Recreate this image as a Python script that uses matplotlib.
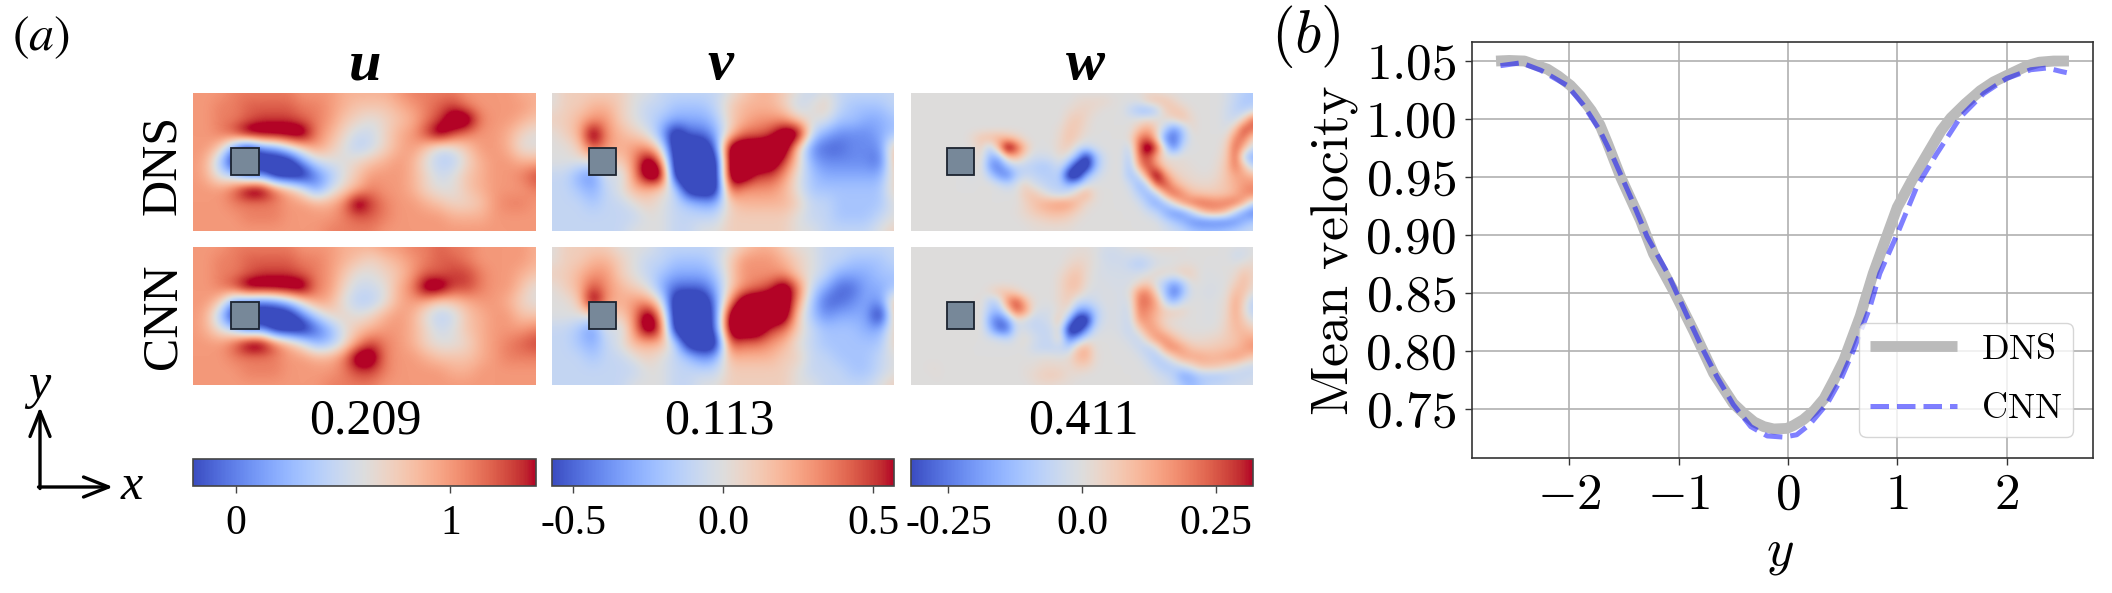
import numpy as np
import matplotlib
matplotlib.use('Agg')
import matplotlib.pyplot as plt
from matplotlib.patches import Rectangle

plt.rcParams['font.family'] = ['Liberation Serif', 'DejaVu Serif']
plt.rcParams['mathtext.fontset'] = 'cm'

W, H = 2112, 593

# mean velocity profiles, panel (b)
y_dns = [-2.67, -2.55, -2.41, -2.2, -2.1, -1.99, -1.9, -1.8, -1.72, -1.65, -1.53, -1.35, -1.23, -1.04, -0.86, -0.68,
         -0.5, -0.4, -0.31, -0.22, -0.13, -0.01, 0.05, 0.14, 0.24, 0.33, 0.42, 0.51, 0.66, 0.78, 0.88, 1.0, 1.15, 1.3,
         1.4, 1.49, 1.62, 1.76, 1.88, 2.0, 2.19, 2.3, 2.43, 2.57]
vel_dns = [1.05, 1.0505, 1.05, 1.043, 1.037, 1.029, 1.02, 1.0075, 0.995, 0.979, 0.95, 0.913, 0.884, 0.851, 0.817, 0.781,
           0.755, 0.746, 0.739, 0.735, 0.733, 0.7335, 0.736, 0.741, 0.749, 0.759, 0.775, 0.792, 0.83, 0.867, 0.893, 0.924, 0.95, 0.974,
           0.99, 1.001, 1.013, 1.0245, 1.032, 1.0375, 1.046, 1.049, 1.05, 1.05]
y_cnn = [-2.63, -2.44, -2.26, -2.02, -1.87, -1.72, -1.59, -1.44, -1.29, -1.1, -0.92, -0.77, -0.65, -0.5, -0.34, -0.19,
         -0.04, 0.08, 0.2, 0.36, 0.48, 0.6, 0.75, 0.84, 1.0, 1.18, 1.36, 1.58, 1.79, 2.0, 2.22, 2.37, 2.5, 2.55]
vel_cnn = [1.046, 1.0485, 1.042, 1.029, 1.012, 0.99, 0.965, 0.933, 0.899, 0.867, 0.83, 0.8, 0.778, 0.754, 0.735, 0.727,
           0.726, 0.728, 0.737, 0.755, 0.775, 0.801, 0.838, 0.867, 0.901, 0.942, 0.97, 1.002, 1.022, 1.035, 1.0425, 1.044, 1.041, 1.04]

# fields, u and v in tenths, w in hundredths
u_dns = [
    [10,10,10,11,11,11,11,11,10,10,10,9,9,9,9,10,11,11,11,11,10,10,10,10,9,9],
    [10,10,11,11,12,12,12,12,11,11,10,9,8,8,8,9,10,11,12,13,11,10,10,10,10,9],
    [10,10,11,11,12,13,13,13,12,11,10,8,7,6,7,8,9,11,13,14,14,11,10,10,9,8],
    [10,10,11,13,14,14,14,14,14,11,9,7,5,5,7,9,10,13,14,13,11,10,10,9,7,6],
    [10,10,8,1,-2,0,1,5,8,10,8,6,4,5,7,9,10,8,5,6,8,10,10,9,6,6],
    [10,9,3,-2,-2,-2,-2,-2,1,5,6,6,7,8,9,10,9,6,4,4,7,9,10,10,9,9],
    [10,9,5,4,-1,0,-2,-2,-2,0,3,6,8,10,10,10,9,7,5,6,8,9,10,10,11,13],
    [10,10,10,12,14,14,12,9,6,1,5,7,9,11,10,10,9,7,6,6,8,9,10,10,10,11],
    [10,10,10,11,11,11,11,10,10,9,9,11,14,13,11,10,10,9,8,7,7,8,10,11,11,10],
    [10,10,10,10,11,11,11,10,10,10,10,11,12,12,11,10,10,10,10,9,9,9,10,10,10,10],
    [10,10,10,10,10,10,10,10,10,10,11,11,11,11,10,10,10,10,10,10,10,10,10,10,10,10],
]
u_cnn = [
    [10,10,10,11,11,11,11,11,10,10,10,9,9,9,10,10,11,11,12,11,11,10,10,10,10,9],
    [10,10,11,11,12,12,12,12,11,11,10,9,8,7,8,9,10,11,12,12,11,10,10,10,10,9],
    [10,10,11,11,12,13,13,13,12,11,10,8,6,6,7,8,10,12,12,13,13,11,10,10,9,8],
    [10,10,11,13,14,14,14,14,14,11,10,7,5,5,6,9,11,14,14,13,13,11,10,10,8,6],
    [10,10,8,1,0,-1,0,3,7,10,9,6,4,4,6,9,10,9,7,8,9,10,10,9,7,6],
    [10,9,3,-2,-2,-2,-2,-2,0,4,7,7,6,7,9,10,9,6,4,5,8,9,10,10,8,8],
    [10,9,6,4,-1,0,-2,-2,-2,-1,2,6,8,9,10,10,9,7,5,6,8,9,10,10,10,11],
    [10,10,10,12,14,14,12,9,6,2,3,6,10,13,11,10,9,7,6,6,7,9,10,11,12,13],
    [10,10,10,11,11,11,11,10,10,9,9,11,14,14,11,10,10,9,8,8,8,9,10,11,11,11],
    [10,10,10,10,11,11,11,10,10,10,10,11,13,13,11,10,10,10,10,9,9,10,10,10,10,10],
    [10,10,10,10,10,10,10,10,10,10,11,11,11,11,10,10,10,10,10,10,10,10,10,10,10,10],
]
v_dns = [
    [0,1,1,1,1,1,0,0,-1,-1,-1,-1,-1,0,1,2,2,1,0,-1,0,-1,-1,-1,-1,-1],
    [0,1,1,2,2,1,0,-1,-1,-2,-2,-2,-1,1,2,2,2,1,-1,0,1,-1,-2,-2,-2,-1],
    [1,1,2,3,3,1,0,-1,-2,-3,-3,-3,-2,1,2,3,3,3,1,0,0,-2,-2,-3,-3,-2],
    [0,1,2,6,3,2,1,0,-3,-6,-5,-5,-3,1,4,4,5,6,6,-1,-3,-4,-4,-4,-3,-2],
    [0,0,1,5,3,2,3,3,0,-6,-6,-6,-5,6,6,6,6,6,1,-4,-5,-5,-4,-4,-4,2],
    [0,0,0,0,1,1,3,6,4,-6,-6,-6,-6,6,6,6,6,5,1,-3,-4,-4,-4,-4,-5,2],
    [-1,-1,-3,-4,0,-1,3,6,6,-6,-6,-6,-6,6,6,5,5,3,0,-2,-3,-3,-3,-3,-3,1],
    [-1,-1,-2,-3,-1,0,2,2,1,-1,-6,-6,-6,5,3,3,3,2,0,-2,-2,-2,-2,-2,-2,1],
    [-1,-1,-1,-2,-1,-1,0,1,0,-1,-2,-3,-3,1,2,2,2,2,1,-1,-1,-2,-2,-2,-2,0],
    [-1,-1,-1,-1,-1,-1,-1,0,0,-1,-1,-1,-1,1,1,1,1,1,0,-1,-1,-2,-2,-2,-1,0],
    [-1,-1,-1,-1,-1,-1,0,0,0,-1,-1,0,0,1,1,1,1,1,0,0,-1,-1,-1,-1,0,1],
]
v_cnn = [
    [0,1,1,1,1,0,0,0,-1,-1,-1,-1,-1,0,1,2,2,1,0,0,-1,-1,-1,-1,-1,-1],
    [0,1,1,2,2,1,0,-1,-1,-2,-2,-2,-1,1,3,3,3,2,1,0,-1,-1,-2,-2,-2,-1],
    [1,1,2,3,3,1,0,-1,-2,-3,-3,-3,-2,1,3,3,3,3,1,0,-1,-3,-3,-3,-2,-2],
    [0,1,2,5,3,2,1,0,-3,-5,-5,-5,-3,1,3,4,5,6,4,-1,-3,-5,-5,-3,-3,-2],
    [0,0,1,6,3,2,3,3,0,-6,-6,-6,-4,3,6,6,6,6,3,-2,-5,-5,-4,-3,-4,2],
    [0,0,0,0,1,1,3,6,3,-6,-6,-6,-5,6,6,6,6,6,1,-2,-4,-3,-3,-3,-6,2],
    [-1,-1,-2,-4,0,-1,3,6,5,-6,-6,-6,-5,6,6,6,5,4,1,-1,-2,-2,-2,-3,-3,1],
    [-1,-1,-2,-3,-1,0,2,2,2,-1,-6,-6,-6,5,4,4,3,2,0,-1,-2,-2,-2,-2,-2,1],
    [-1,-1,-1,-2,-1,-1,0,1,0,-1,-2,-4,-3,2,2,2,2,1,1,-1,-1,-2,-2,-2,-1,0],
    [-1,-1,-1,-1,-1,-1,-1,0,0,-1,-1,-1,-1,1,1,1,1,1,0,-1,-1,-1,-2,-2,-1,0],
    [-1,-1,-1,-1,-1,-1,0,0,0,-1,-1,0,0,1,1,1,1,1,0,0,-1,-1,-1,-1,0,1],
]
w_dns = [
    [0,0,0,0,0,0,0,0,0,0,0,0,0,0,0,0,0,0,0,0,0,0,0,0,0,0,0,2,2,0,0,0,0,0,0,0,-2,-5,-8,-10],
    [0,0,0,0,0,0,0,0,0,0,0,0,0,0,0,0,0,0,0,2,3,3,3,1,0,0,0,6,8,8,4,0,0,0,0,0,-2,-6,-10,-10],
    [0,0,0,0,0,0,0,0,0,0,0,0,0,0,0,0,0,0,2,4,4,2,0,0,0,-6,-12,-14,-8,5,8,6,1,0,0,0,-3,-7,-8,-4],
    [0,0,0,0,0,0,0,0,0,0,0,0,0,0,0,0,0,0,5,7,3,0,0,0,0,0,1,3,2,1,4,8,3,0,0,0,-3,-4,6,25],
    [0,0,0,0,0,0,0,0,0,0,0,0,0,0,0,0,0,2,7,6,2,0,0,0,0,0,8,14,5,-8,-22,-10,3,0,0,0,-2,8,28,22],
    [0,0,0,0,0,0,0,3,8,10,12,10,6,1,0,0,0,3,8,5,0,0,0,0,0,2,20,25,8,-22,-28,-12,0,0,0,0,2,20,22,4],
    [0,0,0,0,0,0,0,0,5,-8,12,32,28,10,0,0,0,4,6,-3,-5,-2,0,0,0,-6,25,32,28,-5,-25,-4,0,0,0,0,5,25,10,-4],
    [0,0,0,0,0,0,0,0,3,-15,-15,8,12,2,-3,-3,-2,2,-2,-15,-30,-15,-3,0,0,-10,22,28,12,1,2,1,0,0,0,1,6,25,-8,-18],
    [0,0,0,0,0,0,0,0,2,-20,-25,-12,-6,-6,-8,-10,-8,-3,-18,-32,-32,-15,-3,0,0,-12,15,28,18,5,2,2,1,0,0,2,8,22,8,-8],
    [0,0,0,0,0,0,0,-2,1,-8,-20,-25,-10,-5,-6,-8,-8,-8,-32,-32,-15,-5,-1,0,0,-12,-6,20,30,18,6,3,2,1,1,3,8,14,14,10],
    [0,0,0,0,0,0,0,0,0,1,-2,-6,-2,5,-2,-5,-8,-8,-15,-10,-2,0,0,0,0,-3,-15,-6,25,28,14,7,4,3,3,5,8,12,16,18],
    [0,0,0,0,0,0,0,0,0,0,0,0,0,6,8,2,-3,-6,-2,6,12,2,0,0,0,-1,-8,-15,-8,15,25,18,10,8,7,7,8,12,18,20],
    [0,0,0,0,0,0,0,0,0,0,0,0,0,4,8,12,14,16,15,10,3,1,0,0,0,0,-2,-10,-18,-12,2,16,22,24,22,20,22,22,12,-6],
    [0,0,0,0,0,0,0,0,0,0,0,0,1,3,6,8,10,10,8,4,1,0,0,0,0,0,0,-3,-6,-16,-22,-20,-8,6,14,15,8,-8,-20,-25],
    [0,0,0,0,0,0,0,0,0,0,0,0,0,1,2,3,4,4,3,1,0,0,0,0,0,0,0,0,-1,-5,-10,-15,-22,-25,-25,-25,-25,-22,-15,-10],
    [0,0,0,0,0,0,0,0,0,0,0,0,0,0,1,1,1,1,1,0,0,0,0,0,0,0,0,0,0,-2,-4,-6,-10,-12,-12,-12,-10,-8,-6,-4],
]
w_cnn = [
    [0,0,0,0,0,0,0,0,0,0,0,0,0,0,0,0,0,0,0,1,1,0,-2,-2,-1,0,1,2,2,2,2,1,0,0,0,0,0,0,-1,0],
    [0,0,0,0,0,0,0,0,0,0,0,0,0,0,0,0,0,0,1,2,2,0,-3,-4,-3,-2,-3,-2,0,0,0,0,0,0,0,0,0,-4,-3,0],
    [0,0,0,0,0,0,0,0,0,0,0,0,0,0,0,0,0,0,3,5,3,0,-2,-3,-3,-6,-9,-6,-2,-1,0,1,1,0,0,0,0,0,2,3],
    [0,0,0,0,0,0,0,0,0,0,0,0,0,0,0,0,0,2,6,8,3,-1,-2,-2,-2,-2,-2,0,3,3,2,6,5,0,-1,0,0,2,8,4],
    [0,0,0,0,0,0,0,0,0,0,0,0,0,0,0,0,0,3,8,9,2,-1,-1,-2,-2,-2,2,6,-2,-10,-18,-10,1,0,-1,-1,0,5,10,3],
    [0,0,0,0,0,0,0,0,0,3,8,8,4,0,0,0,0,3,7,6,0,-2,-1,-1,-2,1,18,20,4,-12,-28,-14,-1,-1,-2,-1,1,10,8,0],
    [0,0,0,0,0,0,0,0,2,-8,-6,18,28,12,1,0,0,3,6,-4,-6,-3,-1,-1,-2,-2,22,22,14,-6,-14,-3,0,0,-1,0,2,14,4,-8],
    [0,0,0,0,0,0,0,0,1,-10,-14,4,25,18,0,-2,-2,2,2,-18,-20,-10,-2,-1,-2,-4,20,18,12,6,6,4,0,0,-1,0,3,14,2,-8],
    [0,0,0,0,0,0,0,0,2,-18,-28,-20,0,-3,-6,-4,-2,8,-15,-32,-32,-10,-2,-1,-2,-5,16,16,10,3,1,0,0,0,-1,0,4,12,6,-2],
    [0,0,0,0,0,0,0,0,1,-12,-28,-28,-3,-2,-5,-6,-4,2,-30,-32,-22,-4,-1,-1,-2,-6,4,16,14,6,2,1,0,0,0,1,5,10,10,6],
    [0,0,0,0,0,0,0,0,0,-1,-2,-5,-1,2,-2,-5,-5,5,-25,-15,-3,0,0,0,-1,-3,-6,6,18,18,10,4,2,2,3,4,6,8,12,14],
    [0,0,0,0,0,0,0,0,0,0,0,0,0,0,-4,-6,-6,-6,-8,8,12,1,0,0,0,-1,-4,-8,-2,16,20,14,8,6,6,7,8,10,14,18],
    [0,0,0,0,0,0,0,0,0,0,0,0,0,0,0,1,1,0,2,10,12,2,0,0,0,0,-1,-5,-10,-4,6,14,14,14,12,12,14,16,12,6],
    [0,0,1,1,0,0,0,0,0,0,0,0,0,1,1,3,3,3,2,5,5,1,0,0,0,0,0,-2,-6,-10,-8,-4,2,8,9,8,4,0,-4,-5],
    [0,0,0,1,0,0,0,0,0,0,0,0,0,1,3,5,6,5,2,1,0,0,0,0,0,0,0,0,-2,-4,-8,-18,-16,-10,-10,-10,-8,-6,-5,-4],
    [0,0,0,0,0,0,0,0,0,0,0,0,0,0,1,2,2,1,1,0,0,0,0,0,0,0,0,0,-1,-2,-4,-10,-14,-10,-6,-5,-4,-3,-3,-2],
]

components = ['u', 'v', 'w']
errors = ['0.209', '0.113', '0.411']
limits = [(-0.2, 1.4), (-0.57, 0.57), (-0.32, 0.32)]
cbar_ticks = [[0, 1], [-0.5, 0.0, 0.5], [-0.25, 0.0, 0.25]]
cbar_labels = [['0', '1'], ['-0.5', '0.0', '0.5'], ['-0.25', '0.0', '0.25']]


def px_axes(x0, y0, x1, y1):
    # axes from pixel box, y counted from the top
    return fig.add_axes([x0 / W, 1 - y1 / H, (x1 - x0) / W, (y1 - y0) / H])


def push_peaks(field, vmin, vmax):
    # bicubic rounds the peaks off, so saturated cells go past the colour limit
    mid = (vmin + vmax) / 2
    half = (vmax - vmin) / 2
    return np.where(np.abs(field - mid) >= 0.9 * half, mid + (field - mid) * 1.35, field)


fig = plt.figure(figsize=(W / 100, H / 100), dpi=100)

columns = [(193, 536), (552, 894), (911, 1253)]
rows = [(93, 231), (247, 385)]
fields = [
    (np.array(u_dns) * 0.1, np.array(u_cnn) * 0.1),
    (np.array(v_dns) * 0.1, np.array(v_cnn) * 0.1),
    (np.array(w_dns) * 0.01, np.array(w_cnn) * 0.01),
]
square_left = [38, 37, 36]

for c, (x0, x1) in enumerate(columns):
    vmin, vmax = limits[c]
    for r, (y0, y1) in enumerate(rows):
        ax = px_axes(x0, y0, x1, y1)
        field = push_peaks(fields[c][r], vmin, vmax)
        im = ax.imshow(field, cmap='coolwarm', vmin=vmin, vmax=vmax,
                       aspect='auto', interpolation='bicubic')
        # grid points were read at the panel corners and edges
        ax.set_xlim(0, field.shape[1] - 1)
        ax.set_ylim(field.shape[0] - 1, 0)
        ax.axis('off')
        ax.add_patch(Rectangle((square_left[c] / 343, 1 - 82 / 138), 27.5 / 343, 27.5 / 138,
                               transform=ax.transAxes, facecolor='#778899',
                               edgecolor='#1c2430', linewidth=1.3, zorder=3))
    cax = px_axes(x0, 459, x1, 486)
    cb = fig.colorbar(im, cax=cax, orientation='horizontal')
    cb.set_ticks(cbar_ticks[c])
    cb.set_ticklabels(cbar_labels[c])
    cb.ax.tick_params(labelsize=30, length=5, width=1, color='#444444', pad=8)
    cb.outline.set_edgecolor('#444444')
    cb.outline.set_linewidth(1.2)

# profile panel
ax = px_axes(1472, 42, 2093, 458)
ax.plot(y_dns, vel_dns, color='#bbbbbb', lw=7.8, solid_capstyle='butt', label=r'$\mathrm{DNS}$', zorder=3)
ax.plot(y_cnn, vel_cnn, color='blue', alpha=0.5, lw=3.6, ls='--', label=r'$\mathrm{CNN}$', zorder=4)
ax.set_xlim(-2.89, 2.79)
ax.set_ylim(0.708, 1.0664)
ax.set_xticks([-2, -1, 0, 1, 2])
ax.set_xticklabels(['$-2$', '$-1$', '$0$', '$1$', '$2$'])
ax.set_yticks([0.75, 0.8, 0.85, 0.9, 0.95, 1.0, 1.05])
ax.set_yticklabels(['$0.75$', '$0.80$', '$0.85$', '$0.90$', '$0.95$', '$1.00$', '$1.05$'])
ax.tick_params(labelsize=37, length=5, width=1, color='#333333', pad=6)
ax.grid(True, color='#b0b0b0', lw=1.2)
ax.set_axisbelow(True)
for spine in ax.spines.values():
    spine.set_color('#333333')
    spine.set_linewidth(1.2)
ax.legend(loc='lower right', bbox_to_anchor=(0.968, 0.05), borderaxespad=0, fontsize=26,
          handlelength=2.4, framealpha=0.8, labelspacing=0.73, borderpad=0.3, handletextpad=0.67)

# all loose text in pixel coordinates
ov = fig.add_axes([0, 0, 1, 1], zorder=10)
ov.set_xlim(0, W)
ov.set_ylim(H, 0)
ov.axis('off')
ov.patch.set_alpha(0)

title_x = [365, 720, 1085]
error_x = [365, 719, 1083]
for c in range(3):
    ov.text(title_x[c], 79, components[c], fontsize=42, style='italic', weight='bold',
            ha='center', va='baseline')
    ov.text(error_x[c], 433, errors[c], fontsize=36, ha='center', va='baseline')

ov.text(163, 165, 'DNS', fontsize=36, rotation=90, ha='center', va='center')
ov.text(163, 316, 'CNN', fontsize=36, rotation=90, ha='center', va='center')
ov.text(41, 38, r'$(\mathit{a})$', fontsize=36, ha='center', va='center', math_fontfamily='stix')
ov.text(1306, 36, r'$(b)$', fontsize=44, ha='center', va='center')

ov.text(1334, 251, r'$\mathrm{Mean\ velocity}$', fontsize=39, rotation=90, ha='center', va='center')
ov.text(1780, 553, '$y$', fontsize=38, ha='center', va='center')

# coordinate arrows
arrow = dict(arrowstyle='->,head_length=0.9,head_width=0.36', color='k', lw=2.4, shrinkA=0, shrinkB=0,
             mutation_scale=20)
ov.annotate('', xy=(40, 407), xytext=(40, 488.5), arrowprops=arrow)
ov.annotate('', xy=(113, 487), xytext=(38.5, 487), arrowprops=arrow)
ov.text(39, 386, 'y', fontsize=36, style='italic', ha='center', va='center')
ov.text(132, 487, 'x', fontsize=36, style='italic', ha='center', va='center')

fig.savefig('out.png', dpi=100)
